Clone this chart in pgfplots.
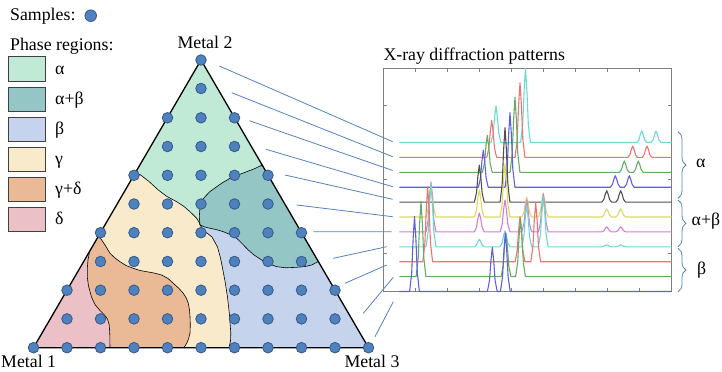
\documentclass[border=0pt]{standalone}
\usepackage{fontspec}
\setmainfont{Liberation Serif}
\usepackage{pgfplots}
\pgfplotsset{compat=1.18}
\usetikzlibrary{decorations.pathreplacing}
\definecolor{ca}{RGB}{192,234,213}
\definecolor{cab}{RGB}{148,198,198}
\definecolor{cb}{RGB}{198,211,236}
\definecolor{cg}{RGB}{248,234,202}
\definecolor{cgd}{RGB}{234,186,150}
\definecolor{cd}{RGB}{235,192,198}
\definecolor{dotc}{RGB}{79,129,189}
\definecolor{dotd}{RGB}{52,88,140}
\definecolor{linec}{RGB}{84,130,190}
\definecolor{cyanc}{RGB}{105,218,208}
\definecolor{redc}{RGB}{238,115,115}
\definecolor{greenc}{RGB}{100,172,100}
\definecolor{bluec}{RGB}{95,95,228}
\definecolor{blackc}{RGB}{80,80,80}
\definecolor{yellowc}{RGB}{218,218,95}
\definecolor{magc}{RGB}{214,122,218}
\begin{document}
\fontsize{17.8bp}{21bp}\selectfont
\begin{tikzpicture}
\useasboundingbox (0,0) rectangle (722bp,372bp);
\begin{axis}[at={(0,0)}, anchor=south west, scale only axis, width=722bp, height=372bp,
  xmin=0, xmax=722, ymin=0, ymax=372, y dir=reverse, hide axis, clip=false]
% regions
\addplot[fill=ca, draw=none] coordinates {(201,60) (262.1,165) (255,168.5) (246.7,171.7) (238,175) (230,178.3) (222,183) (216.7,186.7) (210,191.5) (205,196.7) (201.5,201) (200,206.7) (199.3,216.7) (200,225) (199.5,223) (196.7,218.3) (190,211.7) (184,206.5) (176.7,201.7) (167,196.5) (158.3,190) (149,181.5) (140,174.5) (134.9,173.5)} --cycle;
\addplot[fill=cab, draw=none] coordinates {(262.1,165) (318.3,261.5) (311.7,265) (305,266.5) (296.7,267.3) (286,267.8) (276.7,266.7) (268,263.5) (261.7,260) (254,255) (248.3,250) (242,243.5) (236.7,238.3) (230,234.5) (223.3,231.7) (216,229.5) (210,228.3) (205,227) (200,225) (199.3,216.7) (200,206.7) (201.5,201) (205,196.7) (210,191.5) (216.7,186.7) (222,183) (230,178.3) (238,175) (246.7,171.7) (255,168.5)} --cycle;
\addplot[fill=cb, draw=none] coordinates {(200,225) (205,227) (210,228.3) (216,229.5) (223.3,231.7) (230,234.5) (236.7,238.3) (242,243.5) (248.3,250) (254,255) (261.7,260) (268,263.5) (276.7,266.7) (286,267.8) (296.7,267.3) (305,266.5) (311.7,265) (318.3,261.5) (368.5,347.7) (229,347.7) (230.5,341) (230.8,333) (229.5,315) (227.5,297) (225,281) (222.5,268) (220.5,258) (217.5,247) (212,237) (204.5,231)} --cycle;
\addplot[fill=cg, draw=none] coordinates {(134.9,173.5) (140,174.5) (149,181.5) (158.3,190) (167,196.5) (176.7,201.7) (184,206.5) (190,211.7) (196.7,218.3) (199.5,223) (200,225) (204.5,231) (212,237) (217.5,247) (220.5,258) (222.5,268) (225,281) (227.5,297) (229.5,315) (230.8,333) (230.5,341) (229,347.7) (184,347.7) (186.7,343.3) (188.5,339) (190,333.3) (190.3,325) (190,316.7) (189.5,310) (188.3,303.3) (186.5,298.5) (183.3,293.3) (179,288.5) (173.3,283.3) (168,278.5) (161.7,275) (154,273) (146.7,271.7) (140,270.5) (133.3,268.3) (126,265.5) (120,261.7) (115,258) (110,253.3) (105,245) (101,239) (98.2,236.5)} --cycle;
\addplot[fill=cgd, draw=none] coordinates {(98.2,236.5) (101,239) (105,245) (110,253.3) (115,258) (120,261.7) (126,265.5) (133.3,268.3) (140,270.5) (146.7,271.7) (154,273) (161.7,275) (168,278.5) (173.3,283.3) (179,288.5) (183.3,293.3) (186.5,298.5) (188.3,303.3) (189.5,310) (190,316.7) (190.3,325) (190,333.3) (188.5,339) (186.7,343.3) (184,347.7) (110,347.7) (109.8,335) (109.3,325) (107.5,319) (104.5,315) (100,310.5) (95,304.5) (91.5,297) (88.5,286) (87.3,277) (87.3,268) (88,260) (89.5,252) (91.8,247.5)} --cycle;
\addplot[fill=cd, draw=none] coordinates {(91.8,247.5) (89.5,252) (88,260) (87.3,268) (87.3,277) (88.5,286) (91.5,297) (95,304.5) (100,310.5) (104.5,315) (107.5,319) (109.3,325) (109.8,335) (110,347.7) (33.5,347.7)} --cycle;
% boundaries
\addplot[black, line width=0.6bp] coordinates {(134.9,173.5) (140,174.5) (149,181.5) (158.3,190) (167,196.5) (176.7,201.7) (184,206.5) (190,211.7) (196.7,218.3) (199.5,223) (200,225)};
\addplot[black, line width=0.6bp] coordinates {(262.1,165) (255,168.5) (246.7,171.7) (238,175) (230,178.3) (222,183) (216.7,186.7) (210,191.5) (205,196.7) (201.5,201) (200,206.7) (199.3,216.7) (200,225)};
\addplot[black, line width=0.6bp] coordinates {(200,225) (205,227) (210,228.3) (216,229.5) (223.3,231.7) (230,234.5) (236.7,238.3) (242,243.5) (248.3,250) (254,255) (261.7,260) (268,263.5) (276.7,266.7) (286,267.8) (296.7,267.3) (305,266.5) (311.7,265) (318.3,261.5)};
\addplot[black, line width=0.6bp] coordinates {(200,225) (204.5,231) (212,237) (217.5,247) (220.5,258) (222.5,268) (225,281) (227.5,297) (229.5,315) (230.8,333) (230.5,341) (229,347.7)};
\addplot[black, line width=0.6bp] coordinates {(98.2,236.5) (101,239) (105,245) (110,253.3) (115,258) (120,261.7) (126,265.5) (133.3,268.3) (140,270.5) (146.7,271.7) (154,273) (161.7,275) (168,278.5) (173.3,283.3) (179,288.5) (183.3,293.3) (186.5,298.5) (188.3,303.3) (189.5,310) (190,316.7) (190.3,325) (190,333.3) (188.5,339) (186.7,343.3) (184,347.7)};
\addplot[black, line width=0.6bp] coordinates {(91.8,247.5) (89.5,252) (88,260) (87.3,268) (87.3,277) (88.5,286) (91.5,297) (95,304.5) (100,310.5) (104.5,315) (107.5,319) (109.3,325) (109.8,335) (110,347.7)};
% triangle
\addplot[black, line width=1.3bp, line join=round] coordinates {(33.5,347.7) (201,60) (368.5,347.7)} --cycle;
% connecting lines
\addplot[linec, line width=0.8bp, unbounded coords=jump] coordinates {
(219.3,66) (392.7,141.7) (nan,nan)
(231.7,92.7) (392.7,156.7) (nan,nan)
(249.3,120.7) (392.7,170.5) (nan,nan)
(266,149.3) (392.7,186.7) (nan,nan)
(285,175) (392.7,199.3) (nan,nan)
(296.7,205) (392.7,216.7) (nan,nan)
(313.3,231.7) (391.7,231.7) (nan,nan)
(333.3,258.3) (386.7,246.7) (nan,nan)
(345,283.3) (386.7,265) (nan,nan)
(363.3,313.3) (393.3,277.3) (nan,nan)
(375,336.7) (393.3,301.7)};
% samples
\addplot[only marks, mark=*, mark size=5.3bp, mark options={fill=dotc, draw=dotd, line width=0.8bp}] coordinates {
(201,60)
(201,88.5)
(167.5,117.8) (201,117.8) (234.5,117.8)
(167.5,146.5) (201,146.5) (234.5,146.5)
(134,175.3) (167.5,175.3) (201,175.3) (234.5,175.3) (268,175.3)
(134,204) (167.5,204) (201,204) (234.5,204) (268,204)
(100.5,232.7) (134,232.7) (167.5,232.7) (201,232.7) (234.5,232.7) (268,232.7) (301.5,232.7)
(100.5,261.5) (134,261.5) (167.5,261.5) (201,261.5) (234.5,261.5) (268,261.5) (301.5,261.5)
(67,290.2) (100.5,290.2) (134,290.2) (167.5,290.2) (201,290.2) (234.5,290.2) (268,290.2) (301.5,290.2) (335,290.2)
(67,318.9) (100.5,318.9) (134,318.9) (167.5,318.9) (201,318.9) (234.5,318.9) (268,318.9) (301.5,318.9) (335,318.9)
(33.5,347.7) (67,347.7) (100.5,347.7) (134,347.7) (167.5,347.7) (201,347.7) (234.5,347.7) (268,347.7) (301.5,347.7) (335,347.7) (368.5,347.7)};
% legend
\addplot[only marks, mark=*, mark size=5.8bp, mark options={fill=dotc, draw=dotd, line width=0.8bp}] coordinates {(90.7,15.7)};
\addplot[fill=ca, draw=black!75, line width=0.7bp] coordinates {(8.5,56.7) (45,56.7) (45,81) (8.5,81)} --cycle;
\addplot[fill=cab, draw=black!75, line width=0.7bp] coordinates {(8.5,87.3) (45,87.3) (45,111.7) (8.5,111.7)} --cycle;
\addplot[fill=cb, draw=black!75, line width=0.7bp] coordinates {(8.5,117.3) (45,117.3) (45,141.7) (8.5,141.7)} --cycle;
\addplot[fill=cg, draw=black!75, line width=0.7bp] coordinates {(8.5,147.7) (45,147.7) (45,171.7) (8.5,171.7)} --cycle;
\addplot[fill=cgd, draw=black!75, line width=0.7bp] coordinates {(8.5,177.3) (45,177.3) (45,201.7) (8.5,201.7)} --cycle;
\addplot[fill=cd, draw=black!75, line width=0.7bp] coordinates {(8.5,207.3) (45,207.3) (45,231.7) (8.5,231.7)} --cycle;
\node[anchor=base west, inner sep=0] at (axis cs:10,21) {Samples:};
\node[anchor=base west, inner sep=0] at (axis cs:10,50) {Phase regions:};
\node[anchor=base west, inner sep=0] at (axis cs:55,74) {α};
\node[anchor=base west, inner sep=0] at (axis cs:55,104.5) {α+β};
\node[anchor=base west, inner sep=0] at (axis cs:55,134.5) {β};
\node[anchor=base west, inner sep=0] at (axis cs:55,164.5) {γ};
\node[anchor=base west, inner sep=0] at (axis cs:55,194.5) {γ+δ};
\node[anchor=base west, inner sep=0] at (axis cs:55,224.5) {δ};
\node[anchor=base, inner sep=0] at (axis cs:205,48) {Metal 2};
\node[anchor=base west, inner sep=0] at (axis cs:1,367) {Metal 1};
\node[anchor=base, inner sep=0] at (axis cs:372,367) {Metal 3};
\node[anchor=base west, inner sep=0] at (axis cs:383.3,60.5) {X-ray diffraction patterns};
% braces
\draw[linec, line width=0.8bp, decorate, decoration={brace, amplitude=8bp}] (axis cs:678,131.7) -- (axis cs:678,198.3);
\draw[linec, line width=0.8bp, decorate, decoration={brace, amplitude=8bp}] (axis cs:678,200) -- (axis cs:678,246.7);
\draw[linec, line width=0.8bp, decorate, decoration={brace, amplitude=8bp}] (axis cs:678,248.3) -- (axis cs:678,291.7);
\node[anchor=west, inner sep=0] at (axis cs:696,163.3) {α};
\node[anchor=west, inner sep=0] at (axis cs:691.5,221) {α+β};
\node[anchor=west, inner sep=0] at (axis cs:697,270) {β};
\end{axis}
\begin{axis}[at={(383.3bp,80.3bp)}, anchor=south west, scale only axis, width=288.4bp, height=223.4bp,
  xmin=383.3, xmax=671.7, ymin=68.3, ymax=291.7, y dir=reverse, clip=false,
  axis line style={draw=gray, line width=0.8bp},
  xtick={415.3,447.4,479.4,511.5,543.6,575.6,607.7,639.7}, ytick={105,179.3,253.3},
  xticklabels={}, yticklabels={}, tick style={gray, line width=0.6bp}, major tick length=3.5bp,
  every axis plot/.append style={line width=1.1bp, line join=round}]
\addplot[cyanc] coordinates {(399.3,142.5)
(491.1,142.5)(493.2,133.4)(494.6,116.9)(496,106)(497.4,116.9)(498.8,133.4)(500.9,142.5)
(520.6,142.5)(522.7,124)(524.1,90.7)(525.5,68.5)(526.9,90.7)(528.3,124)(530.4,142.5)
(636.8,142.5)(638.9,139.6)(640.3,134.5)(641.7,131)(643.1,134.5)(644.5,139.6)(646.6,142.5)
(651.1,142.5)(653.2,139.6)(654.6,134.5)(656,131)(657.4,134.5)(658.8,139.6)(660.9,142.5)
(671.7,142.5)};
\addplot[redc] coordinates {(399.3,157.4)
(486.8,157.4)(488.9,148.2)(490.3,131.5)(491.7,120.4)(493.1,131.5)(494.5,148.2)(496.6,157.4)
(515.1,157.4)(517.2,138.8)(518.6,105.2)(520,82.9)(521.4,105.2)(522.8,138.8)(524.9,157.4)
(627.8,157.4)(629.9,154.6)(631.3,149.4)(632.7,146)(634.1,149.4)(635.5,154.6)(637.6,157.4)
(642.1,157.4)(644.2,154.6)(645.6,149.4)(647,146)(648.4,149.4)(649.8,154.6)(651.9,157.4)
(671.7,157.4)};
\addplot[greenc] coordinates {(399.3,172.3)
(482.4,172.3)(484.5,163.1)(485.9,146.4)(487.3,135.3)(488.7,146.4)(490.1,163.1)(492.2,172.3)
(510.1,172.3)(512.2,153.6)(513.6,119.8)(515,97.3)(516.4,119.8)(517.8,153.6)(519.9,172.3)
(619.4,172.3)(621.5,169.5)(622.9,164.4)(624.3,161)(625.7,164.4)(627.1,169.5)(629.2,172.3)
(633.4,172.3)(635.5,169.5)(636.9,164.4)(638.3,161)(639.7,164.4)(641.1,169.5)(643.2,172.3)
(671.7,172.3)};
\addplot[bluec] coordinates {(399.3,187.2)
(478.4,187.2)(480.5,178)(481.9,161.3)(483.3,150.2)(484.7,161.3)(486.1,178)(488.2,187.2)
(505.1,187.2)(507.2,168.6)(508.6,135)(510,112.7)(511.4,135)(512.8,168.6)(514.9,187.2)
(610.4,187.2)(612.5,184.3)(613.9,179.2)(615.3,175.7)(616.7,179.2)(618.1,184.3)(620.2,187.2)
(624.4,187.2)(626.5,184.3)(627.9,179.2)(629.3,175.7)(630.7,179.2)(632.1,184.3)(634.2,187.2)
(671.7,187.2)};
\addplot[blackc] coordinates {(399.3,202.1)
(474.4,202.1)(476.5,192.9)(477.9,176.2)(479.3,165.1)(480.7,176.2)(482.1,192.9)(484.2,202.1)
(500.1,202.1)(502.2,183.5)(503.6,149.9)(505,127.6)(506.4,149.9)(507.8,183.5)(509.9,202.1)
(601.8,202.1)(603.9,199.3)(605.3,194.1)(606.7,190.7)(608.1,194.1)(609.5,199.3)(611.6,202.1)
(615.8,202.1)(617.9,199.3)(619.3,194.1)(620.7,190.7)(622.1,194.1)(623.5,199.3)(625.6,202.1)
(671.7,202.1)};
\addplot[yellowc] coordinates {(399.3,217)
(426.1,217)(428.2,208.8)(429.6,193.9)(431,184)(432.4,193.9)(433.8,208.8)(435.9,217)
(474.4,217)(476.5,210.3)(477.9,198.1)(479.3,190)(480.7,198.1)(482.1,210.3)(484.2,217)
(500.1,217)(502.2,203.8)(503.6,179.9)(505,164)(506.4,179.9)(507.8,203.8)(509.9,217)
(521.8,217)(523.9,212)(525.3,203)(526.7,197)(528.1,203)(529.5,212)(531.6,217)
(538.4,217)(540.5,211)(541.9,200.2)(543.3,193)(544.7,200.2)(546.1,211)(548.2,217)
(601.8,217)(603.9,215)(605.3,211.4)(606.7,209)(608.1,211.4)(609.5,215)(611.6,217)
(615.8,217)(617.9,215)(619.3,211.4)(620.7,209)(622.1,211.4)(623.5,215)(625.6,217)
(671.7,217)};
\addplot[magc] coordinates {(399.3,231.9)
(426.1,231.9)(428.2,219.4)(429.6,196.9)(431,181.9)(432.4,196.9)(433.8,219.4)(435.9,231.9)
(474.4,231.9)(476.5,227.2)(477.9,218.6)(479.3,212.9)(480.7,218.6)(482.1,227.2)(484.2,231.9)
(500.1,231.9)(502.2,223.9)(503.6,209.5)(505,199.9)(506.4,209.5)(507.8,223.9)(509.9,231.9)
(521.8,231.9)(523.9,223.9)(525.3,209.5)(526.7,199.9)(528.1,209.5)(529.5,223.9)(531.6,231.9)
(538.4,231.9)(540.5,222.4)(541.9,205.3)(543.3,193.9)(544.7,205.3)(546.1,222.4)(548.2,231.9)
(601.8,231.9)(603.9,230.7)(605.3,228.4)(606.7,226.9)(608.1,228.4)(609.5,230.7)(611.6,231.9)
(615.8,231.9)(617.9,230.7)(619.3,228.4)(620.7,226.9)(622.1,228.4)(623.5,230.7)(625.6,231.9)
(671.7,231.9)};
\addplot[cyanc] coordinates {(399.3,246.8)
(426.1,246.8)(428.2,231.1)(429.6,202.7)(431,183.8)(432.4,202.7)(433.8,231.1)(435.9,246.8)
(474.4,246.8)(476.5,244.9)(477.9,241.6)(479.3,239.3)(480.7,241.6)(482.1,244.9)(484.2,246.8)
(500.1,246.8)(502.2,242.8)(503.6,235.6)(505,230.8)(506.4,235.6)(507.8,242.8)(509.9,246.8)
(521.8,246.8)(523.9,236.3)(525.3,217.4)(526.7,204.8)(528.1,217.4)(529.5,236.3)(531.6,246.8)
(538.4,246.8)(540.5,234.3)(541.9,211.8)(543.3,196.8)(544.7,211.8)(546.1,234.3)(548.2,246.8)
(601.8,246.8)(603.9,246.3)(605.3,245.4)(606.7,244.8)(608.1,245.4)(609.5,246.3)(611.6,246.8)
(615.8,246.8)(617.9,246.3)(619.3,245.4)(620.7,244.8)(622.1,245.4)(623.5,246.3)(625.6,246.8)
(671.7,246.8)};
\addplot[redc] coordinates {(399.3,261.7)
(422.8,261.7)(424.9,243)(426.3,209.2)(427.7,186.7)(429.1,209.2)(430.5,243)(432.6,261.7)
(515.1,261.7)(517.2,250.5)(518.6,230.2)(520,216.7)(521.4,230.2)(522.8,250.5)(524.9,261.7)
(530.8,261.7)(532.9,247)(534.3,220.4)(535.7,202.7)(537.1,220.4)(538.5,247)(540.6,261.7)
(671.7,261.7)};
\addplot[greenc] coordinates {(399.3,276.6)
(416.1,276.6)(418.2,257.9)(419.6,224.1)(421,201.6)(422.4,224.1)(423.8,257.9)(425.9,276.6)
(501.1,276.6)(503.2,265.9)(504.6,246.5)(506,233.6)(507.4,246.5)(508.8,265.9)(510.9,276.6)
(515.6,276.6)(517.7,262.1)(519.1,236)(520.5,218.6)(521.9,236)(523.3,262.1)(525.4,276.6)
(671.7,276.6)};
\addplot[bluec] coordinates {(399.3,291.5)
(409.6,291.5)(411.7,272.8)(413.1,239)(414.5,216.5)(415.9,239)(417.3,272.8)(419.4,291.5)
(487.4,291.5)(489.5,280.5)(490.9,260.7)(492.3,247.5)(493.7,260.7)(495.1,280.5)(497.2,291.5)
(500.4,291.5)(502.5,276.9)(503.9,250.5)(505.3,233)(506.7,250.5)(508.1,276.9)(510.2,291.5)
(671.7,291.5)};
\end{axis}
\end{tikzpicture}
\end{document}
